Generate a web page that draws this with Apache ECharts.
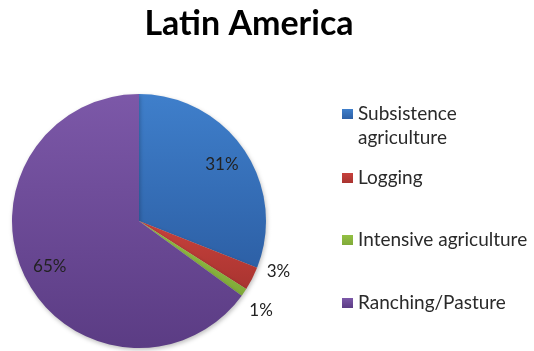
<!DOCTYPE html>
<html>
<head>
<meta charset="utf-8">
<script src="https://cdn.jsdelivr.net/npm/echarts@6/dist/echarts.min.js"></script>
<style>
  html, body { margin: 0; padding: 0; background: #fff; }
  #chart { width: 534px; height: 351px; }
</style>
</head>
<body>
<div id="chart"></div>
<script>
// Land-use drivers of deforestation, Latin America (share of cleared area)
const categories = ['Subsistence agriculture', 'Logging', 'Intensive agriculture', 'Ranching/Pasture'];
const shares = [31, 3, 1, 65];
const legendLabels = ['\nSubsistence\nagriculture', 'Logging', 'Intensive agriculture', 'Ranching/Pasture'];

// Vertical shading per slice: lighter on top, darker below
const fills = [
  ['#3f7fcb', '#2d60a6'],
  ['#c7413c', '#a93430'],
  ['#93c043', '#80aa39'],
  ['#7c58a8', '#5b3c84']
];
function shade(pair) {
  return new echarts.graphic.LinearGradient(0, 0, 0, 1, [
    { offset: 0, color: pair[0] },
    { offset: 1, color: pair[1] }
  ]);
}

const FONT = 'Lato, "Open Sans", sans-serif';
const cx = 139, cy = 221, R = 127;

const pieData = categories.map((name, i) => ({
  name: name,
  value: shares[i],
  itemStyle: { color: shade(fills[i]) },
  label: { show: shares[i] < 10 }
}));

// Transparent twin ring, used only to place the large in-slice labels further out
const innerLabelData = categories.map((name, i) => ({
  name: name,
  value: shares[i],
  label: { show: shares[i] >= 10 }
}));

// Small nudges for the two outside labels (Logging, Intensive agriculture)
const outsideNudge = { 1: [6, -9], 2: [-3, 16] };

const legendTops = [78, 166, 228, 291];
const legends = categories.map((name, i) => ({
  data: [name],
  orient: 'vertical',
  left: 342,
  top: legendTops[i],
  padding: 0,
  itemWidth: 11,
  itemHeight: 10,
  icon: 'rect',
  selectedMode: false,
  formatter: () => legendLabels[i],
  textStyle: { fontFamily: FONT, fontSize: 19, color: '#2a2a2a', lineHeight: 24 }
}));

const chart = echarts.init(document.getElementById('chart'), null, { renderer: 'canvas' });
chart.setOption({
  animation: false,
  backgroundColor: '#fff',
  title: {
    text: 'Latin America',
    left: 244,
    top: 2,
    textAlign: 'center',
    textStyle: { fontFamily: FONT, fontWeight: 'bold', fontSize: 34, color: '#000' }
  },
  legend: legends,
  series: [
    {
      type: 'pie',
      center: [cx, cy],
      radius: [0, R],
      startAngle: 90,
      clockwise: true,
      avoidLabelOverlap: false,
      silent: true,
      data: pieData,
      itemStyle: {
        borderWidth: 0,
        shadowBlur: 4,
        shadowOffsetX: 1,
        shadowOffsetY: 2,
        shadowColor: 'rgba(0,0,0,0.25)'
      },
      label: {
        position: 'outside',
        formatter: '{c}%',
        fontFamily: FONT,
        fontSize: 17,
        color: '#222'
      },
      labelLine: { show: false, length: 4, length2: 0 },
      labelLayout: function (params) {
        const n = outsideNudge[params.dataIndex];
        return n ? { dx: n[0], dy: n[1], hideOverlap: false } : { hideOverlap: false };
      }
    },
    {
      type: 'pie',
      center: [cx, cy],
      radius: [0, R * 1.53],
      startAngle: 90,
      clockwise: true,
      silent: true,
      avoidLabelOverlap: false,
      data: innerLabelData,
      itemStyle: { color: 'rgba(0,0,0,0)' },
      label: {
        position: 'inside',
        formatter: '{c}%',
        fontFamily: FONT,
        fontSize: 17,
        color: '#222'
      },
      labelLine: { show: false }
    }
  ]
});
</script>
</body>
</html>
